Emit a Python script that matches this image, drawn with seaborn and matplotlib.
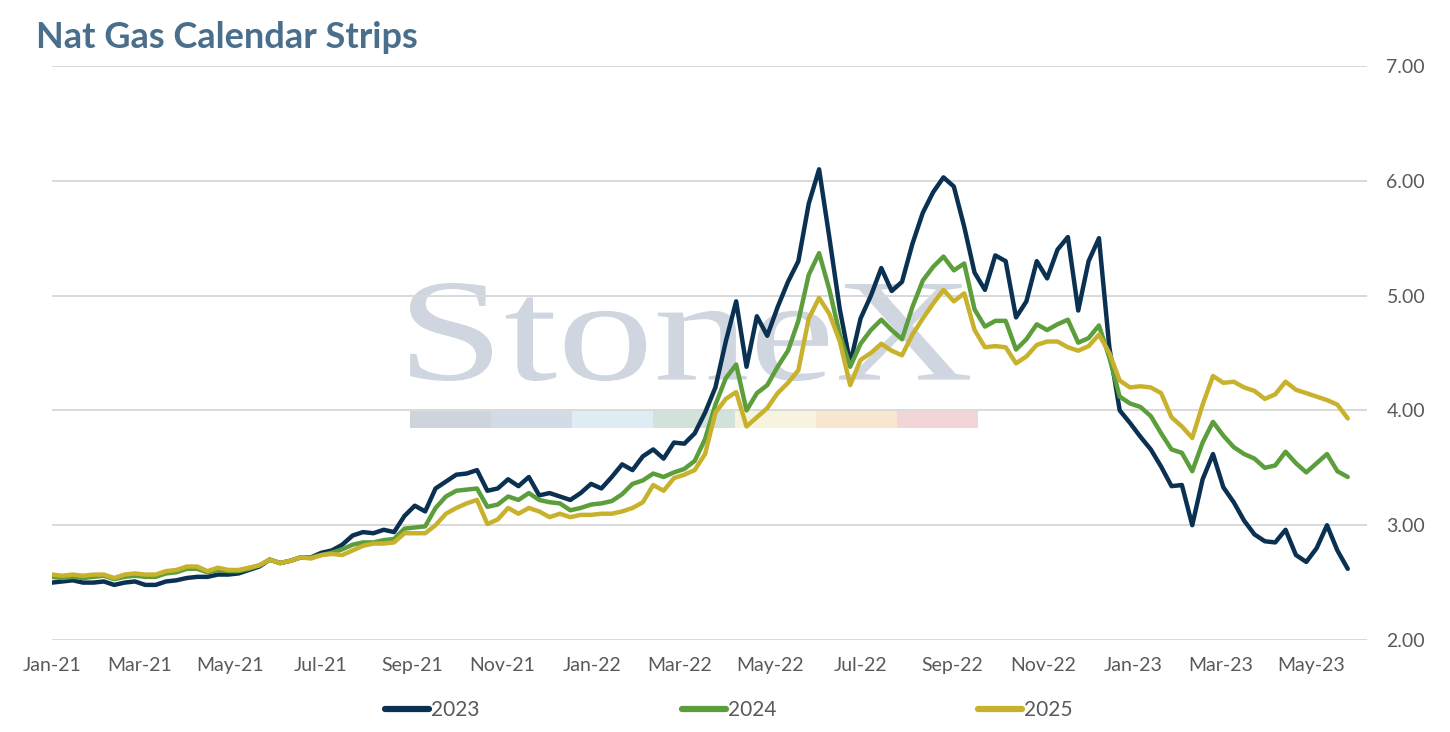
import pandas as pd
import numpy as np
import matplotlib
matplotlib.use('Agg')
import matplotlib.pyplot as plt
import matplotlib.dates as mdates
import seaborn as sns
from matplotlib.textpath import TextPath
from matplotlib.patches import PathPatch, Rectangle
from matplotlib.font_manager import FontProperties
from matplotlib.transforms import Bbox, BboxTransform
from matplotlib.lines import Line2D

# --- dados (estimados do gráfico, semanais) ---
start_date = '2021-01-01'
n_weeks = 126

strip_2023 = [
    2.50, 2.51, 2.52, 2.50, 2.50, 2.51, 2.48, 2.50, 2.51, 2.48,
    2.48, 2.51, 2.52, 2.54, 2.55, 2.55, 2.57, 2.57, 2.58, 2.61,
    2.64, 2.70, 2.67, 2.69, 2.72, 2.72, 2.76, 2.78, 2.83, 2.91,
    2.94, 2.93, 2.96, 2.94, 3.08, 3.17, 3.12, 3.32, 3.38, 3.44,
    3.45, 3.48, 3.30, 3.32, 3.40, 3.34, 3.42, 3.26, 3.28, 3.25,
    3.22, 3.28, 3.36, 3.32, 3.42, 3.53, 3.48, 3.60, 3.66, 3.58,
    3.72, 3.71, 3.80, 3.98, 4.20, 4.60, 4.95, 4.38, 4.82, 4.65,
    4.90, 5.12, 5.30, 5.80, 6.10, 5.50, 4.88, 4.41, 4.80, 5.00,
    5.24, 5.04, 5.12, 5.45, 5.72, 5.90, 6.03, 5.95, 5.60, 5.20,
    5.05, 5.35, 5.30, 4.81, 4.95, 5.30, 5.15, 5.40, 5.51, 4.87,
    5.30, 5.50, 4.55, 4.00, 3.89, 3.77, 3.66, 3.51, 3.34, 3.35,
    3.00, 3.40, 3.62, 3.33, 3.20, 3.04, 2.92, 2.86, 2.85, 2.96,
    2.74, 2.68, 2.80, 3.00, 2.78, 2.62,
]
strip_2024 = [
    2.55, 2.54, 2.55, 2.54, 2.55, 2.56, 2.53, 2.55, 2.56, 2.55,
    2.55, 2.58, 2.59, 2.62, 2.62, 2.59, 2.61, 2.60, 2.60, 2.62,
    2.65, 2.70, 2.67, 2.69, 2.72, 2.72, 2.74, 2.76, 2.79, 2.83,
    2.85, 2.85, 2.87, 2.88, 2.97, 2.98, 2.99, 3.15, 3.25, 3.30,
    3.31, 3.32, 3.16, 3.18, 3.25, 3.22, 3.28, 3.22, 3.20, 3.19,
    3.13, 3.15, 3.18, 3.19, 3.21, 3.27, 3.36, 3.39, 3.45, 3.42,
    3.46, 3.49, 3.56, 3.75, 4.05, 4.28, 4.40, 4.00, 4.15, 4.22,
    4.38, 4.52, 4.78, 5.18, 5.37, 5.05, 4.66, 4.38, 4.58, 4.70,
    4.79, 4.70, 4.62, 4.90, 5.13, 5.25, 5.34, 5.22, 5.28, 4.88,
    4.73, 4.78, 4.78, 4.53, 4.62, 4.75, 4.70, 4.75, 4.79, 4.59,
    4.63, 4.74, 4.46, 4.12, 4.06, 4.03, 3.95, 3.80, 3.66, 3.63,
    3.47, 3.72, 3.90, 3.78, 3.68, 3.62, 3.58, 3.50, 3.52, 3.64,
    3.54, 3.46, 3.54, 3.62, 3.47, 3.42,
]
strip_2025 = [
    2.57, 2.56, 2.57, 2.56, 2.57, 2.57, 2.54, 2.57, 2.58, 2.57,
    2.57, 2.60, 2.61, 2.64, 2.64, 2.60, 2.63, 2.61, 2.61, 2.63,
    2.65, 2.70, 2.67, 2.69, 2.72, 2.71, 2.74, 2.75, 2.74, 2.78,
    2.82, 2.84, 2.84, 2.85, 2.93, 2.93, 2.93, 3.00, 3.10, 3.15,
    3.19, 3.22, 3.01, 3.05, 3.15, 3.10, 3.15, 3.12, 3.07, 3.10,
    3.07, 3.09, 3.09, 3.10, 3.10, 3.12, 3.15, 3.20, 3.35, 3.30,
    3.41, 3.44, 3.48, 3.62, 3.98, 4.10, 4.16, 3.86, 3.94, 4.02,
    4.15, 4.24, 4.35, 4.80, 4.98, 4.84, 4.60, 4.22, 4.44, 4.50,
    4.58, 4.52, 4.48, 4.66, 4.80, 4.93, 5.05, 4.95, 5.02, 4.70,
    4.55, 4.56, 4.55, 4.41, 4.47, 4.57, 4.60, 4.60, 4.55, 4.52,
    4.56, 4.66, 4.50, 4.26, 4.20, 4.21, 4.20, 4.15, 3.94, 3.86,
    3.76, 4.05, 4.30, 4.24, 4.25, 4.20, 4.17, 4.10, 4.14, 4.25,
    4.18, 4.15, 4.12, 4.09, 4.05, 3.93,
]

series_names = ['2023', '2024', '2025']
series_colors = ['#0b3152', '#5b9e3b', '#c8b22d']
y_ticks = [2, 3, 4, 5, 6, 7]

dates = pd.date_range(start_date, periods=n_weeks, freq='7D')
df = pd.DataFrame({'date': dates, '2023': strip_2023, '2024': strip_2024, '2025': strip_2025})
df_long = df.melt(id_vars='date', var_name='strip', value_name='price')

# --- estilo ---
sns.set_theme(style='white')
plt.rcParams['font.family'] = ['Lato', 'DejaVu Sans']
grey_txt = '#595959'

fig = plt.figure(figsize=(14.5, 7.32), dpi=100)
ax = fig.add_axes([52 / 1450, 1 - 640 / 732, (1367 - 52) / 1450, (640 - 66) / 732])
ax.set_facecolor('none')

sns.lineplot(data=df_long, x='date', y='price', hue='strip', hue_order=series_names,
             palette=series_colors, linewidth=3.2, legend=False, ax=ax, zorder=3)

ax.set_ylim(2, 7)
ax.set_xlim(pd.Timestamp('2021-01-01'), pd.Timestamp('2023-06-08'))
ax.set_yticks(y_ticks)
ax.yaxis.tick_right()
ax.yaxis.set_major_formatter(matplotlib.ticker.FormatStrFormatter('%.2f'))
ax.xaxis.set_major_locator(mdates.MonthLocator(bymonth=[1, 3, 5, 7, 9, 11]))
ax.xaxis.set_major_formatter(mdates.DateFormatter('%b-%y'))
ax.tick_params(axis='y', length=0, pad=14, labelsize=14, labelcolor=grey_txt)
ax.tick_params(axis='x', length=0, pad=12, labelsize=14, labelcolor=grey_txt)
ax.set_xlabel('')
ax.set_ylabel('')
ax.set_axisbelow(True)
ax.grid(axis='y', color='#d9d9d9', linewidth=1.4, zorder=0.5)
ax.grid(axis='x', visible=False)
for s in ax.spines.values():
    s.set_visible(False)

# --- marca d'água ---
tp = TextPath((0, 0), 'StoneX', size=100, prop=FontProperties(family='Liberation Serif'))
alvo = Bbox.from_extents(410 / 1450, 1 - 381 / 732, 970 / 1450, 1 - 283 / 732)
wm = PathPatch(tp, transform=BboxTransform(tp.get_extents(), alvo) + fig.transFigure,
               facecolor='#cfd6df', edgecolor='none', zorder=0.2, clip_on=False)
ax.add_artist(wm)

faixa_cores = ['#cdd4dd', '#d1dce6', '#e0ecf4', '#d2e2da', '#f6f4de', '#f8e6cf', '#f2d5d7']
seg_w = (978 - 410) / 7
for k, c in enumerate(faixa_cores):
    r = Rectangle(((410 + k * seg_w) / 1450, 1 - 428 / 732), seg_w / 1450, 17 / 732,
                  transform=fig.transFigure, facecolor=c, edgecolor='none', zorder=0.2, clip_on=False)
    ax.add_artist(r)

# --- título e legenda ---
fig.text(36 / 1450, 1 - 48 / 732, 'Nat Gas Calendar Strips', fontsize=26, fontweight='bold',
         color='#4a6f8c', va='baseline', ha='left')

handles = [Line2D([0], [0], color=c, lw=4.5, solid_capstyle='round') for c in series_colors]
fig.legend(handles, series_names, loc='center', bbox_to_anchor=(729 / 1450, 1 - 710 / 732),
           ncol=3, frameon=False, fontsize=15, labelcolor=grey_txt,
           handlelength=2.1, handletextpad=0.1, columnspacing=9.7)

fig.savefig('out.png', dpi=100)
